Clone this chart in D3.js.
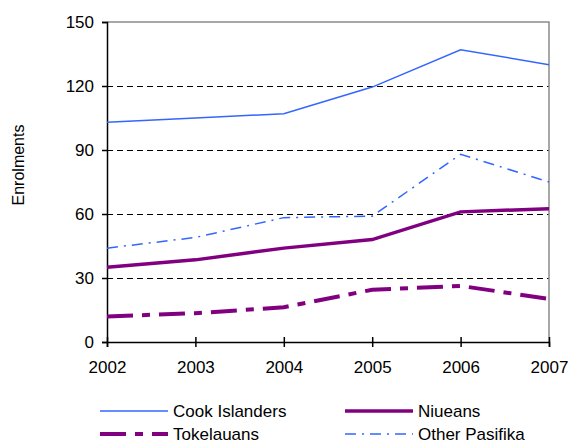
<!DOCTYPE html>
<html>
<head>
<meta charset="utf-8">
<script src="https://cdn.jsdelivr.net/npm/d3@7"></script>
<style>
  body { margin: 0; background: #fff; }
  svg { display: block; font-family: "Liberation Sans", Arial, sans-serif; }
</style>
</head>
<body>
<div class="chart"></div>
<script>
const years = [2002, 2003, 2004, 2005, 2006, 2007];
const yTicks = [0, 30, 60, 90, 120, 150];

const cookIslanders = [103, 105, 107, 119.5, 137, 130];
const niueans = [35, 38.5, 44, 48, 61, 62.5];
const tokelauans = [12, 13.5, 16.3, 24.5, 26.3, 20.2];
const otherPasifika = [44, 49, 58.3, 59, 88, 75];

const series = [
  { name: "Cook Islanders", values: cookIslanders, color: "#3366ff", width: 1.5, dash: null },
  { name: "Niueans", values: niueans, color: "#800080", width: 3.5, dash: null },
  { name: "Tokelauans", values: tokelauans, color: "#800080", width: 4, dash: "26,9,8,9" },
  { name: "Other Pasifika", values: otherPasifika, color: "#3366ff", width: 1.5, dash: "11,6,2,6" }
];

const w = 571, h = 444;
const margin = { top: 22, right: 22, bottom: 102, left: 107 };
const width = w - margin.left - margin.right;
const height = h - margin.top - margin.bottom;

const svg = d3.select(".chart").append("svg")
  .attr("width", w)
  .attr("height", h);

const g = svg.append("g")
  .attr("transform", "translate(" + margin.left + "," + margin.top + ")");

const x = d3.scaleLinear().domain([2002, 2007]).range([0, width]);
const y = d3.scaleLinear().domain([0, 150]).range([height, 0]);

// gridlines
g.selectAll(".grid")
  .data(yTicks.filter(d => d > 0 && d < 150))
  .enter().append("line")
  .attr("x1", 0).attr("x2", width)
  .attr("y1", d => y(d) + 0.5).attr("y2", d => y(d) + 0.5)
  .attr("stroke", "#000")
  .attr("stroke-width", 1)
  .attr("stroke-dasharray", "6,4");

// plot frame (top + right grey)
g.append("path")
  .attr("d", "M0," + y(150) + "H" + width + "V" + height)
  .attr("fill", "none")
  .attr("stroke", "#8c8c8c")
  .attr("stroke-width", 1.5);

// y axis
const yAxis = g.append("g")
  .call(d3.axisLeft(y).tickValues(yTicks).tickSize(5).tickPadding(8));
yAxis.select(".domain").attr("stroke", "#000").attr("stroke-width", 1.5);
yAxis.selectAll(".tick line").attr("stroke", "#000").attr("stroke-width", 1.5);
yAxis.selectAll("text").attr("font-size", 17).attr("fill", "#000")
  .attr("font-family", "Liberation Sans, Arial, sans-serif");

// x axis
const xAxis = g.append("g")
  .attr("transform", "translate(0," + height + ")")
  .call(d3.axisBottom(x).tickValues(years).tickFormat(d3.format("d")).tickSize(5).tickPadding(14));
xAxis.select(".domain").attr("stroke", "#000").attr("stroke-width", 1.5);
xAxis.selectAll(".tick line").attr("stroke", "#000").attr("stroke-width", 1.5).attr("y1", -5);
xAxis.selectAll("text").attr("font-size", 17).attr("fill", "#000")
  .attr("font-family", "Liberation Sans, Arial, sans-serif");

// y label
svg.append("text")
  .attr("transform", "translate(24,165) rotate(-90)")
  .attr("text-anchor", "middle")
  .attr("font-size", 16)
  .text("Enrolments");

// lines
const line = d3.line()
  .x((d, i) => x(years[i]))
  .y(d => y(d));

g.selectAll(".series")
  .data(series)
  .enter().append("path")
  .attr("d", d => line(d.values))
  .attr("fill", "none")
  .attr("stroke", d => d.color)
  .attr("stroke-width", d => d.width)
  .attr("stroke-dasharray", d => d.dash);

// legend
const legend = svg.append("g")
  .selectAll("g")
  .data(series)
  .enter().append("g")
  .attr("transform", (d, i) => "translate(" + (i % 2 === 0 ? 100 : 345) + "," + (i < 2 ? 411 : 434) + ")");

legend.append("line")
  .attr("x1", 0).attr("x2", 68)
  .attr("stroke", d => d.color)
  .attr("stroke-width", d => d.width)
  .attr("stroke-dasharray", d => d.dash);

legend.append("text")
  .attr("x", 73)
  .attr("y", 6)
  .attr("font-size", 17)
  .text(d => d.name);
</script>
</body>
</html>
